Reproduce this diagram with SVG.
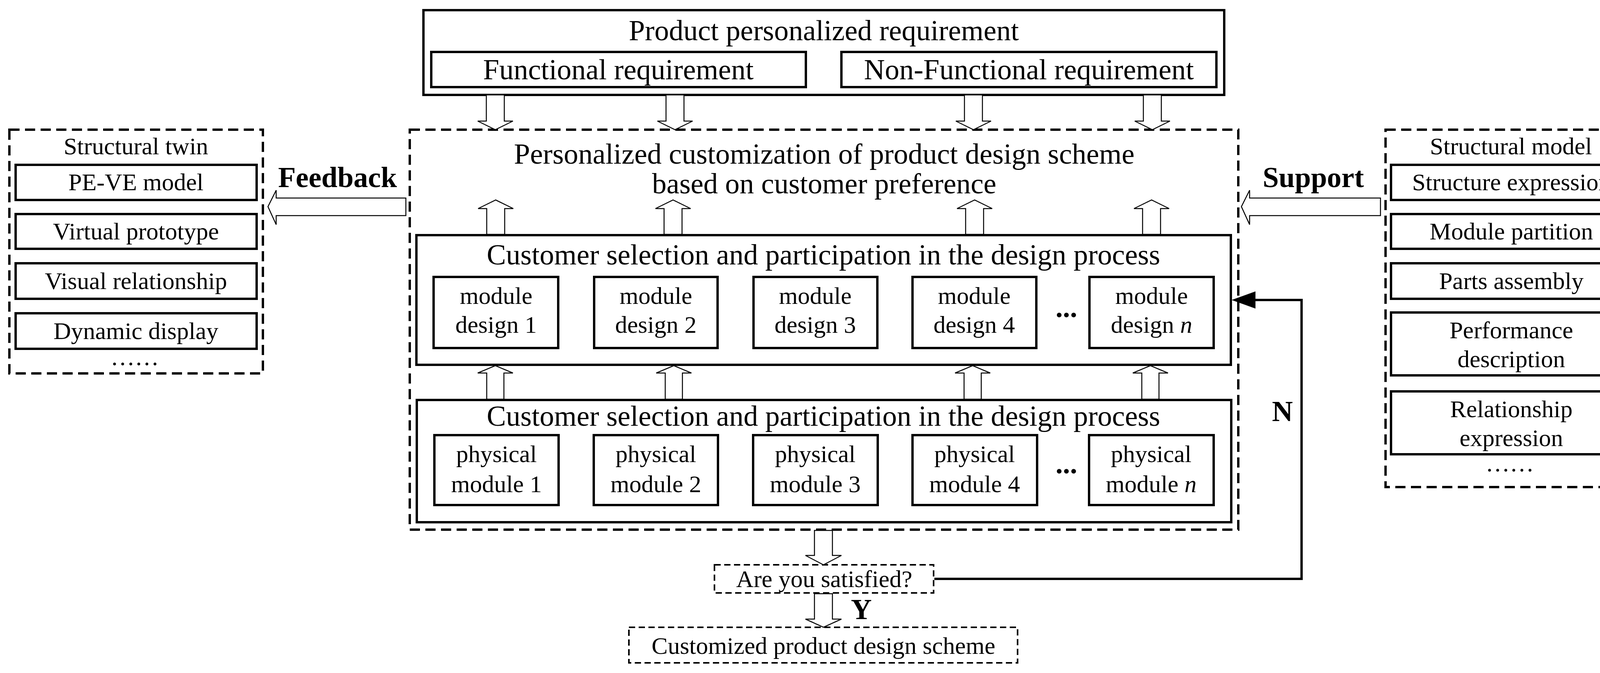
<svg xmlns="http://www.w3.org/2000/svg" width="4222" height="1723" viewBox="0 0 4222 1723">
<style>
text{font-family:"Liberation Serif","Times New Roman",serif;fill:#000;text-anchor:middle}
.t{font-size:74px}.s{font-size:62px}.b{font-size:74px;font-weight:bold}
.box{fill:none;stroke:#000;stroke-width:6}
.dash{fill:none;stroke:#000;stroke-width:6;stroke-dasharray:26 14}
.dash2{fill:none;stroke:#000;stroke-width:4;stroke-dasharray:16 9}
.ar{fill:#fff;stroke:#000;stroke-width:2.5}
</style>
<defs>
<marker id="ah" markerWidth="12" markerHeight="8" refX="12" refY="4" orient="auto" markerUnits="userSpaceOnUse" viewBox="0 0 12 8"><path d="M0,0 L12,4 L0,8 z" fill="#000"/></marker>
</defs>
<g id="requirement">
<rect class="box" x="1084" y="26" width="2050" height="217"/>
<text class="t" x="2109" y="103">Product personalized requirement</text>
<rect class="box" x="1104" y="133" width="959" height="90"/>
<text class="t" x="1583" y="203">Functional requirement</text>
<rect class="box" x="2154" y="133" width="960" height="90"/>
<text class="t" x="2634" y="203">Non-Functional requirement</text>
</g>
<g id="customization">
<rect class="dash" x="1049" y="332" width="2121" height="1024"/>
<text class="t" x="2110" y="419">Personalized customization of product design scheme</text>
<text class="t" x="2110" y="495">based on customer preference</text>
</g>
<g id="module-design">
<rect class="box" x="1066" y="602" width="2085" height="332"/>
<text class="t" x="2108" y="677">Customer selection and participation in the design process</text>
<rect class="box" x="1110" y="709" width="319" height="182"/><text class="s" x="1270" y="778">module</text><text class="s" x="1270" y="852">design 1</text>
<rect class="box" x="1521" y="709" width="316" height="182"/><text class="s" x="1679" y="778">module</text><text class="s" x="1679" y="852">design 2</text>
<rect class="box" x="1929" y="709" width="317" height="182"/><text class="s" x="2087" y="778">module</text><text class="s" x="2087" y="852">design 3</text>
<rect class="box" x="2336" y="709" width="317" height="182"/><text class="s" x="2494" y="778">module</text><text class="s" x="2494" y="852">design 4</text>
<text class="b" x="2730" y="812">...</text>
<rect class="box" x="2789" y="709" width="318" height="182"/><text class="s" x="2948" y="778">module</text><text class="s" x="2948" y="852">design <tspan font-style="italic">n</tspan></text>
</g>
<g id="physical-module">
<rect class="box" x="1067" y="1024" width="2085" height="313"/>
<text class="t" x="2108" y="1090">Customer selection and participation in the design process</text>
<rect class="box" x="1112" y="1114" width="318" height="179"/><text class="s" x="1271" y="1183">physical</text><text class="s" x="1271" y="1260">module 1</text>
<rect class="box" x="1520" y="1114" width="318" height="179"/><text class="s" x="1679" y="1183">physical</text><text class="s" x="1679" y="1260">module 2</text>
<rect class="box" x="1928" y="1114" width="319" height="179"/><text class="s" x="2087" y="1183">physical</text><text class="s" x="2087" y="1260">module 3</text>
<rect class="box" x="2336" y="1114" width="319" height="179"/><text class="s" x="2495" y="1183">physical</text><text class="s" x="2495" y="1260">module 4</text>
<text class="b" x="2730" y="1212">...</text>
<rect class="box" x="2788" y="1114" width="319" height="179"/><text class="s" x="2947" y="1183">physical</text><text class="s" x="2947" y="1260">module <tspan font-style="italic">n</tspan></text>
</g>
<g id="structural-twin">
<rect class="dash" x="24" y="332" width="649" height="624"/>
<text class="s" x="348" y="395">Structural twin</text>
<rect class="box" x="40" y="422" width="617" height="90"/><text class="s" x="348" y="487">PE-VE model</text>
<rect class="box" x="40" y="548" width="617" height="89"/><text class="s" x="348" y="613">Virtual prototype</text>
<rect class="box" x="40" y="674" width="617" height="91"/><text class="s" x="348" y="740">Visual relationship</text>
<rect class="box" x="40" y="802" width="617" height="91"/><text class="s" x="348" y="868">Dynamic display</text>
<text class="s" x="345" y="935">……</text>
</g>
<g id="structural-model">
<rect class="dash" x="3547" y="332" width="648" height="915"/>
<text class="s" x="3868" y="395">Structural model</text>
<rect class="box" x="3561" y="422" width="616" height="90"/><text class="s" x="3869" y="487">Structure expression</text>
<rect class="box" x="3561" y="548" width="616" height="89"/><text class="s" x="3869" y="613">Module partition</text>
<rect class="box" x="3561" y="674" width="616" height="91"/><text class="s" x="3869" y="740">Parts assembly</text>
<rect class="box" x="3561" y="800" width="616" height="161"/><text class="s" x="3869" y="866">Performance</text><text class="s" x="3869" y="940">description</text>
<rect class="box" x="3561" y="1002" width="616" height="161"/><text class="s" x="3869" y="1068">Relationship</text><text class="s" x="3869" y="1142">expression</text>
<text class="s" x="3865" y="1207">……</text>
</g>
<g id="satisfied">
<rect class="dash2" x="1829" y="1446" width="561" height="72"/>
<text class="s" x="2110" y="1503">Are you satisfied?</text>
</g>
<g id="result">
<rect class="dash2" x="1610" y="1606" width="995" height="91"/>
<text class="s" x="2108" y="1674">Customized product design scheme</text>
</g>
<g id="connectors">
<polygon class="ar" points="1245,243 1291,243 1291,310 1313,310 1268,332 1223,310 1245,310"/>
<polygon class="ar" points="1705,243 1751,243 1751,310 1773,310 1728,332 1683,310 1705,310"/>
<polygon class="ar" points="2469,243 2515,243 2515,310 2537,310 2492,332 2447,310 2469,310"/>
<polygon class="ar" points="2927,243 2973,243 2973,310 2995,310 2950,332 2905,310 2927,310"/>
<polygon class="ar" points="1246,600 1292,600 1292,534 1314,534 1269,512 1224,534 1246,534"/>
<polygon class="ar" points="1700,600 1746,600 1746,534 1768,534 1723,512 1678,534 1700,534"/>
<polygon class="ar" points="2472,600 2518,600 2518,534 2540,534 2495,512 2450,534 2472,534"/>
<polygon class="ar" points="2925,600 2971,600 2971,534 2993,534 2948,512 2903,534 2925,534"/>
<polygon class="ar" points="1246,1022 1290,1022 1290,955 1313,955 1268,936 1223,955 1246,955"/>
<polygon class="ar" points="1703,1022 1747,1022 1747,955 1770,955 1725,936 1680,955 1703,955"/>
<polygon class="ar" points="2468,1022 2512,1022 2512,955 2535,955 2490,936 2445,955 2468,955"/>
<polygon class="ar" points="2923,1022 2967,1022 2967,955 2990,955 2945,936 2900,955 2923,955"/>
<polygon class="ar" points="2085,1358 2131,1358 2131,1422 2154,1422 2108,1446 2062,1422 2085,1422"/>
<polygon class="ar" points="2085,1520 2131,1520 2131,1585 2154,1585 2108,1606 2062,1585 2085,1585"/>
<polygon class="ar" points="1039,507 1039,552 707,552 707,575 686,529 707,487 707,507"/>
<polygon class="ar" points="3534,507 3534,552 3199,552 3199,575 3178,529 3199,487 3199,507"/>
<polyline fill="none" stroke="#000" stroke-width="6" points="2392,1482 3332,1482 3332,768 3212,768"/>
<polygon points="3153,768 3214,746 3214,790" fill="#000"/>
<text class="b" x="864" y="479">Feedback</text>
<text class="b" x="3362" y="479">Support</text>
<text class="b" x="3283" y="1078">N</text>
<text class="b" x="2205" y="1585">Y</text>
</g>
</svg>
